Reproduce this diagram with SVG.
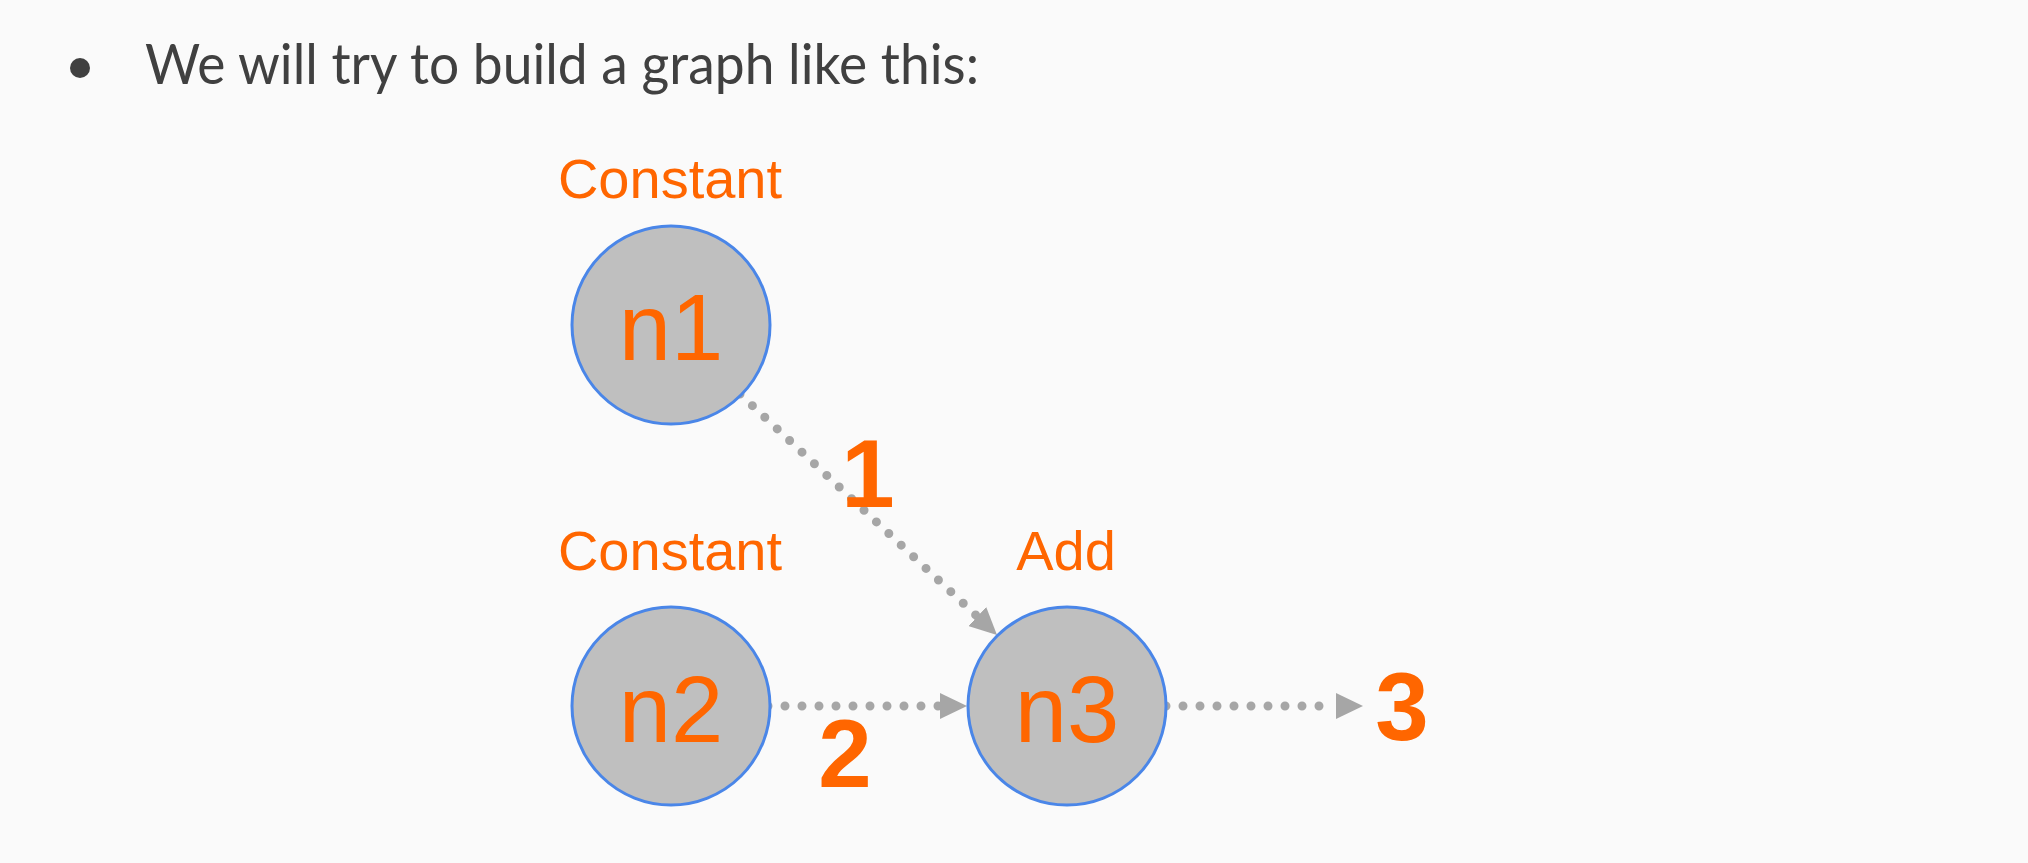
<svg xmlns="http://www.w3.org/2000/svg" width="2028" height="863" viewBox="0 0 2028 863">
<defs>
<style>
.node circle{fill:#bfbfbf;stroke:#4a86e8;stroke-width:3}
.nt{font-family:"Liberation Sans",Arial,sans-serif;font-size:94px;fill:#ff6600;text-anchor:middle}
.lbl{font-family:"Liberation Sans",Arial,sans-serif;font-size:56px;fill:#ff6600;text-anchor:middle}
.num{font-family:"Liberation Sans",Arial,sans-serif;font-size:96px;font-weight:bold;fill:#ff6600;text-anchor:middle}
.edge{fill:none;stroke:#a6a6a6;stroke-width:9;stroke-linecap:round;stroke-dasharray:0 17}
</style>
<marker id="arr" viewBox="0 0 27 26" refX="0" refY="13" markerWidth="27" markerHeight="26" markerUnits="userSpaceOnUse" orient="auto">
<path d="M0,0 L27,13 L0,26 z" fill="#a6a6a6"/>
</marker>
</defs>
<rect width="2028" height="863" fill="#fafafa"/>
<g id="title">
<circle cx="80" cy="68" r="10" fill="#404040"/>
<text x="145" y="84" font-family="Lato,'Open Sans',sans-serif" font-size="57" fill="#404040" textLength="834" lengthAdjust="spacingAndGlyphs">We will try to build a graph like this:</text>
</g>
<g id="connectors">
<path class="edge" d="M740,394 L977.3,616.5" marker-end="url(#arr)"/>
<path class="edge" d="M768,706 L940,706" marker-end="url(#arr)"/>
<path class="edge" d="M1166,706 L1336,706" marker-end="url(#arr)"/>
<text class="num" x="868" y="507">1</text>
<text class="num" x="845" y="787">2</text>
<text class="num" x="1402" y="740">3</text>
</g>
<g id="n1" class="node">
<text class="lbl" x="670" y="198">Constant</text>
<circle cx="671" cy="325" r="99"/>
<text class="nt" x="671" y="360">n1</text>
</g>
<g id="n2" class="node">
<text class="lbl" x="670" y="570">Constant</text>
<circle cx="671" cy="706" r="99"/>
<text class="nt" x="671" y="742">n2</text>
</g>
<g id="n3" class="node">
<text class="lbl" x="1066" y="570">Add</text>
<circle cx="1067" cy="706" r="99"/>
<text class="nt" x="1067" y="742">n3</text>
</g>
</svg>
